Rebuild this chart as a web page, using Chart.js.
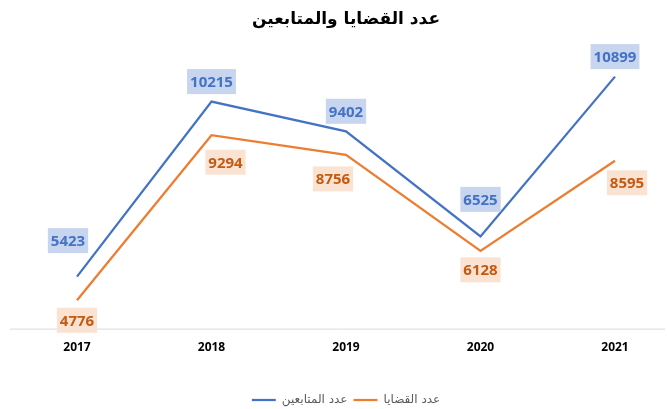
<!DOCTYPE html>
<html>
<head>
<meta charset="utf-8">
<script src="https://cdn.jsdelivr.net/npm/chart.js@4"></script>
<style>
  html, body { margin: 0; padding: 0; background: #fff; }
  #box { width: 667px; height: 409px; }
</style>
</head>
<body>
<div id="box"><canvas id="chart"></canvas></div>
<script>
// data
const years = ['2017', '2018', '2019', '2020', '2021'];
const followers = [5423, 10215, 9402, 6525, 10899];   // عدد المتابعين
const cases = [4776, 9294, 8756, 6128, 8595];         // عدد القضايا

// label nudges (px) - Excel labels were moved by hand
const labelShift = [
  { dx: [-9, 0, 0, 0, 0], dy: [-36, -20, -20, -37, -20] },
  { dx: [0, 14, -13, 0, 12], dy: [20, 27, 24, 19, 22] },
];
const labelStyle = [
  { text: '#4472C4', bg: '#C7D5EF' },
  { text: '#C55A11', bg: '#FBE3D4' },
];

const valueLabels = {
  id: 'valueLabels',
  afterDatasetsDraw(chart) {
    const ctx = chart.ctx;
    ctx.save();
    ctx.font = 'bold 15px "Open Sans", "Liberation Sans", sans-serif';
    ctx.textAlign = 'center';
    ctx.textBaseline = 'middle';
    chart.data.datasets.forEach((ds, di) => {
      const meta = chart.getDatasetMeta(di);
      meta.data.forEach((pt, i) => {
        const txt = String(ds.data[i]);
        const x = pt.x + labelShift[di].dx[i];
        const y = pt.y + labelShift[di].dy[i];
        const w = ctx.measureText(txt).width + 6;
        const h = 25;
        ctx.fillStyle = labelStyle[di].bg;
        ctx.fillRect(x - w / 2, y - h / 2, w, h);
        ctx.fillStyle = labelStyle[di].text;
        ctx.fillText(txt, x, y + 1);
      });
    });
    ctx.restore();
  }
};

// x axis base line runs across the whole plot, past the first/last category
const baseLine = {
  id: 'baseLine',
  beforeDatasetsDraw(chart) {
    const ctx = chart.ctx;
    const y = chart.chartArea.bottom;
    ctx.save();
    ctx.strokeStyle = '#D9D9D9';
    ctx.lineWidth = 1;
    ctx.beginPath();
    ctx.moveTo(10, y + 0.5);
    ctx.lineTo(665, y + 0.5);
    ctx.stroke();
    ctx.restore();
  }
};

new Chart(document.getElementById('chart'), {
  type: 'line',
  data: {
    labels: years,
    datasets: [
      { label: 'عدد المتابعين', data: followers, borderColor: '#4472C4', backgroundColor: '#4472C4', borderWidth: 2.25, pointRadius: 0, tension: 0 },
      { label: 'عدد القضايا', data: cases, borderColor: '#ED7D31', backgroundColor: '#ED7D31', borderWidth: 2.25, pointRadius: 0, tension: 0 },
    ],
  },
  options: {
    responsive: true, maintainAspectRatio: false, animation: false,
    layout: { padding: { left: 77, right: 52, top: 0, bottom: -7 } },
    scales: {
      x: {
        offset: false,
        grid: { display: false },
        border: { display: false },
        ticks: { color: '#000', font: { family: '"Open Sans", "Liberation Sans", sans-serif', size: 12, weight: 'bold' }, padding: 4 },
        afterFit(scale) { scale.height += 29; },
      },
      y: { display: false, min: 4000, max: 12000 },
    },
    plugins: {
      title: {
        display: true,
        text: 'عدد القضايا والمتابعين',
        color: '#000',
        font: { family: '"DejaVu Sans", sans-serif', size: 17, weight: 'bold' },
        padding: { top: 9, bottom: 7 },
      },
      legend: {
        position: 'bottom',
        labels: {
          usePointStyle: true, pointStyle: 'line', pointStyleWidth: 24,
          color: '#595959',
          font: { family: '"DejaVu Sans", sans-serif', size: 12 },
          padding: 6,
        },
      },
      tooltip: { enabled: false },
    },
  },
  plugins: [baseLine, valueLabels],
});
</script>
</body>
</html>
